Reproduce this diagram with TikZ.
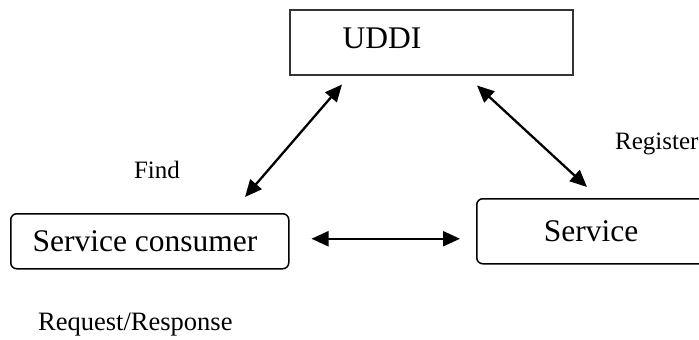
\documentclass[tikz,border=0pt]{standalone}
\usepackage{fontspec}
\setmainfont{Liberation Serif}
\usetikzlibrary{arrows.meta,calc}
\begin{document}
\begin{tikzpicture}[x=1pt,y=-1pt,
  box/.style={draw=black,line width=1.5pt,inner sep=0pt,anchor=north west},
  big/.style={font=\fontsize{31.5}{36}\selectfont,inner sep=0pt},
  small/.style={font=\fontsize{25}{30}\selectfont,inner sep=0pt},
  link/.style={line width=2.3pt,{Triangle[length=17pt,width=15pt]}-{Triangle[length=17pt,width=15pt]}}]
\useasboundingbox (0,0) rectangle (699,340);
\clip (0,0) rectangle (699,340);
% boxes
\node[box,draw=black!80,minimum width=283pt,minimum height=65pt] (uddi) at (289,9) {};
\node[big,anchor=base] (uddilabel) at (382,48) {UDDI};
\node[box,rounded corners=6pt,minimum width=278pt,minimum height=55pt] (cons) at (10,213) {};
\node[big,anchor=base] (conslabel) at (145,251) {Service consumer};
\node[box,rounded corners=6pt,minimum width=260pt,minimum height=65pt] (srv) at (476,198) {};
\node[big,anchor=base] (srvlabel) at (591,241) {Service};
% labels
\node[small,anchor=base] (find) at (157,178) {Find};
\node[small,anchor=base west] (register) at (615,149) {Register};
\node[small,font=\fontsize{26.5}{30}\selectfont,anchor=base west] (reqresp) at (38,330) {Request/Response};
% arrow ends
\coordinate (aU) at ($(uddi.south west)+(53,9)$);
\coordinate (aC) at ($(cons.north west)+(235,-16)$);
\coordinate (bU) at ($(uddi.south west)+(188,10)$);
\coordinate (bS) at ($(srv.north west)+(111,-11)$);
\coordinate (cC) at ($(cons.east)+(22,-2.5)$);
\coordinate (cS) at ($(srv.west)+(-16,7.5)$);
\draw[link] (aC) -- (aU);
\draw[link] (bU) -- (bS);
\draw[link] (cC) -- (cS);
\end{tikzpicture}
\end{document}
